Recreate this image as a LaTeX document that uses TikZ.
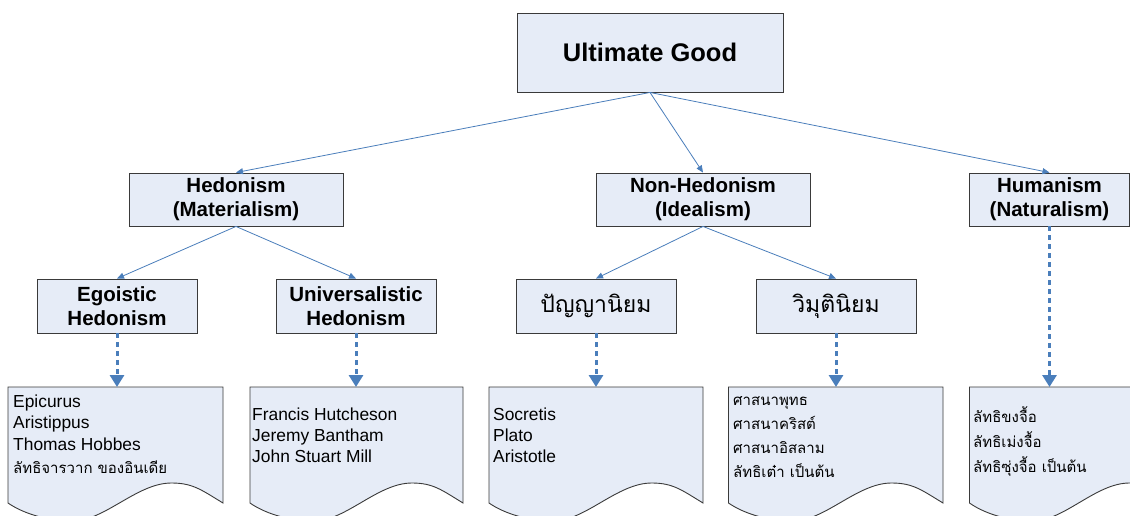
\documentclass[tikz,border=0pt]{standalone}
\usepackage{fontspec}
\setmainfont{Liberation Sans}
\newfontfamily\thaifont[Script=Thai]{Loma}
\usetikzlibrary{arrows.meta}
\definecolor{linkblue}{HTML}{4A7EBB}
\definecolor{boxfill}{HTML}{E6ECF7}
\definecolor{boxline}{HTML}{3A3A3A}
\newcommand\mydocshape[3]{%
  \draw[docbox] (#1,387) -- (#2,387) -- (#2,503)
    .. controls ({#2-0.1*(#2-#1)},490) and ({#1+0.86*(#2-#1)},483) .. ({#1+0.76*(#2-#1)},483)
    .. controls ({#1+0.6*(#2-#1)},483) and ({#1+0.45*(#2-#1)},521) .. ({#1+0.3*(#2-#1)},521)
    .. controls ({#1+0.17*(#2-#1)},521) and ({#1+0.06*(#2-#1)},512) .. (#1,503) -- cycle;
  \coordinate (#3) at ({(#1+#2)/2},387);}
\begin{document}
\begin{tikzpicture}[x=1pt,y=-1pt,
  box/.style={draw=boxline, line width=0.9pt, fill=boxfill, inner sep=0pt, align=center,
    font=\bfseries\fontsize{20.5}{24}\selectfont},
  topbox/.style={box, font=\bfseries\fontsize{25.5}{30}\selectfont},
  thaibox/.style={box, font=\thaifont\fontsize{23}{28}\selectfont},
  docbox/.style={draw=boxline, line width=0.9pt, fill=boxfill},
  doctext/.style={inner sep=0pt, anchor=base west, font=\fontsize{17.4}{21}\selectfont},
  thaitext/.style={inner sep=0pt, anchor=base west, font=\thaifont\fontsize{15}{20}\selectfont},
  link/.style={draw=linkblue, line width=0.8pt, -{Triangle[length=7pt,width=6pt]}},
  dlink/.style={draw=linkblue, line width=3pt, dash pattern=on 5pt off 4pt,
    -{Triangle[length=12pt,width=14pt]}}]
\useasboundingbox (0,0) rectangle (1130,516);
\clip (0,0) rectangle (1130,516);
\fill[white] (0,0) rectangle (1130,516);
% boxes
\node[topbox, minimum width=266pt, minimum height=79pt] (ug) at (650,52.5) {Ultimate Good};
\node[box, minimum width=214pt, minimum height=53pt] (hed) at (236,199.5) {Hedonism\\(Materialism)};
\node[box, minimum width=214pt, minimum height=53pt] (nonhed) at (703,199.5) {Non-Hedonism\\(Idealism)};
\node[box, minimum width=160pt, minimum height=53pt] (hum) at (1049.5,199.5) {Humanism\\(Naturalism)};
\node[box, minimum width=160pt, minimum height=54pt] (ego) at (117,306) {Egoistic\\Hedonism};
\node[box, minimum width=160pt, minimum height=54pt] (uni) at (356,306) {Universalistic\\Hedonism};
\node[thaibox, minimum width=160pt, minimum height=54pt] (pan) at (596,306) {ปัญญานิยม};
\node[thaibox, minimum width=160pt, minimum height=54pt] (wim) at (836,306) {วิมุตินิยม};
% documents
\mydocshape{8}{223}{d1}
\mydocshape{250}{463}{d2}
\mydocshape{489}{703}{d3}
\mydocshape{728.5}{943}{d4}
\mydocshape{969.5}{1180}{d5}
% connectors
\draw[link] (ug.south) -- (hed.north);
\draw[link] (ug.south) -- (nonhed.north);
\draw[link] (ug.south) -- (hum.north);
\draw[link] (hed.south) -- (ego.north);
\draw[link] (hed.south) -- (uni.north);
\draw[link] (nonhed.south) -- (pan.north);
\draw[link] (nonhed.south) -- (wim.north);
\draw[dlink] (ego.south) -- (ego.south |- d1);
\draw[dlink] (uni.south) -- (uni.south |- d2);
\draw[dlink] (pan.south) -- (pan.south |- d3);
\draw[dlink] (wim.south) -- (wim.south |- d4);
\draw[dlink] (hum.south) -- (hum.south |- d5);
% document texts
\foreach \t [count=\i] in {Epicurus, Aristippus, Thomas Hobbes}
  \node[doctext] (d1l\i) at (13,{407+21.5*(\i-1)}) {\t};
\node[thaitext] (d1l4) at (13,473) {ลัทธิจารวาก ของอินเดีย};
\foreach \t [count=\i] in {Francis Hutcheson, Jeremy Bantham, John Stuart Mill}
  \node[doctext] (d2l\i) at (252,{420+21*(\i-1)}) {\t};
\foreach \t [count=\i] in {Socretis, Plato, Aristotle}
  \node[doctext] (d3l\i) at (493,{420+21*(\i-1)}) {\t};
\foreach \t [count=\i] in {ศาสนาพุทธ, ศาสนาคริสต์, ศาสนาอิสลาม, ลัทธิเต๋า เป็นต้น}
  \node[thaitext] (d4l\i) at (733,{405+24.3*(\i-1)}) {\t};
\foreach \t [count=\i] in {ลัทธิขงจื้อ, ลัทธิเม่งจื้อ, ลัทธิซุ่งจื้อ เป็นต้น}
  \node[thaitext] (d5l\i) at (973,{422+25*(\i-1)}) {\t};
\end{tikzpicture}
\end{document}
